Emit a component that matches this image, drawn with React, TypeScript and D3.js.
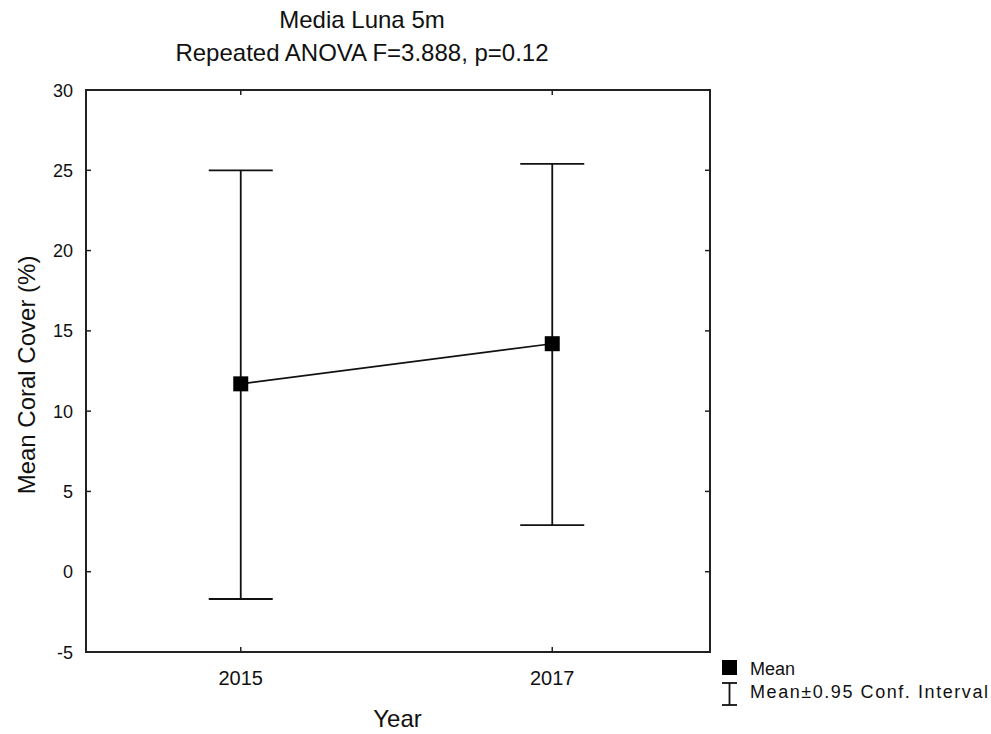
import React from "react";
import * as d3 from "d3";

const years = [2015, 2017];
const means = [11.7, 14.2];
const upper = [25.0, 25.4];
const lower = [-1.7, 2.9];
const yTicks = [-5, 0, 5, 10, 15, 20, 25, 30];
const titleLines = ["Media Luna 5m", "Repeated ANOVA F=3.888, p=0.12"];

export default function App() {
  const W = 991, H = 734;
  const left = 86, right = 710, top = 90, bottom = 652;
  const x = d3.scaleLinear().domain([2014, 2018]).range([85, 708]);
  const y = d3.scaleLinear().domain([-5, 30]).range([bottom, top]);
  const line = d3.line<number>().x((_, i) => x(years[i])).y((d) => y(d));
  const font = "'Liberation Sans', Arial, sans-serif";
  const tl = 5;
  const cap = 32;
  const ms = 15;
  return (
    <svg width={W} height={H} style={{ position: "absolute", left: 0, top: 0, background: "#fff" }} fontFamily={font}>
      <rect width={W} height={H} fill="#fff" />
      {titleLines.map((t, i) => (
        <text key={t} x={362} y={28 + i * 33} textAnchor="middle" fontSize={24} fill="#111">{t}</text>
      ))}
      <rect x={left} y={top} width={right - left} height={bottom - top} fill="none" stroke="#222" strokeWidth={2} />
      {yTicks.map((v) => (
        <g key={v}>
          <line x1={left} x2={left + tl} y1={y(v)} y2={y(v)} stroke="#222" strokeWidth={1.5} />
          <line x1={right} x2={right - tl} y1={y(v)} y2={y(v)} stroke="#222" strokeWidth={1.5} />
          <text x={73} y={y(v) + 6.5} textAnchor="end" fontSize={18} fill="#111">{v}</text>
        </g>
      ))}
      {years.map((yr) => (
        <g key={yr}>
          <line x1={x(yr)} x2={x(yr)} y1={bottom} y2={bottom - tl} stroke="#222" strokeWidth={1.5} />
          <line x1={x(yr)} x2={x(yr)} y1={top} y2={top + tl} stroke="#222" strokeWidth={1.5} />
          <text x={x(yr)} y={685} textAnchor="middle" fontSize={20} fill="#111">{yr}</text>
        </g>
      ))}
      {years.map((yr, i) => (
        <g key={"e" + yr} stroke="#111" strokeWidth={1.8}>
          <line x1={x(yr)} x2={x(yr)} y1={y(upper[i])} y2={y(lower[i])} />
          <line x1={x(yr) - cap} x2={x(yr) + cap} y1={y(upper[i])} y2={y(upper[i])} />
          <line x1={x(yr) - cap} x2={x(yr) + cap} y1={y(lower[i])} y2={y(lower[i])} />
        </g>
      ))}
      <path d={line(means) || ""} fill="none" stroke="#111" strokeWidth={1.6} />
      {years.map((yr, i) => (
        <rect key={"m" + yr} x={x(yr) - ms / 2} y={y(means[i]) - ms / 2} width={ms} height={ms} fill="#000" />
      ))}
      <text x={397.5} y={727} textAnchor="middle" fontSize={24} fill="#111">Year</text>
      <text transform={`translate(35,375) rotate(-90)`} textAnchor="middle" fontSize={24} fill="#111">Mean Coral Cover (%)</text>
      <rect x={722} y={660} width={15} height={15} fill="#000" />
      <text x={750} y={675} fontSize={18} fill="#111">Mean</text>
      <g stroke="#111" strokeWidth={1.8}>
        <line x1={729.5} x2={729.5} y1={683} y2={705} />
        <line x1={722} x2={737} y1={683} y2={683} />
        <line x1={722} x2={737} y1={705} y2={705} />
      </g>
      <text x={750} y={698} fontSize={18} fill="#111" textLength={238} lengthAdjust="spacing">Mean±0.95 Conf. Interval</text>
    </svg>
  );
}
